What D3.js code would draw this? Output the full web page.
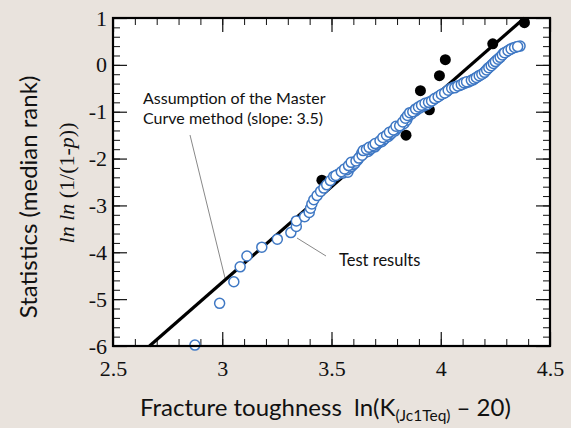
<!DOCTYPE html>
<html>
<head>
<meta charset="utf-8">
<script src="https://cdn.jsdelivr.net/npm/d3@7"></script>
<style>
  body { margin: 0; background: #e9e3dd; }
  svg { display: block; }
  .tick text { font-family: "Liberation Serif", "Times New Roman", serif; font-size: 22px; fill: #111; }
  .sans { font-family: Lato, "Open Sans", sans-serif; fill: #111; white-space: pre; }
</style>
</head>
<body>
<div id="chart"></div>
<script>
//
// Data
//
var xMajor = [2.5, 3, 3.5, 4, 4.5];
var yMajor = [1, 0, -1, -2, -3, -4, -5, -6];
var xLabels = ["2.5", "3", "3.5", "4", "4.5"];
var yLabels = ["1", "0", "-1", "-2", "-3", "-4", "-5", "-6"];

// Master Curve assumption line, end points
var lineX = [2.667, 4.383];
var lineY = [-6, 1];

// black filled points
var blackX = [3.456, 3.841, 3.907, 3.948, 3.994, 4.021, 4.238, 4.383];
var blackY = [-2.46, -1.50, -0.55, -0.96, -0.23, 0.11, 0.45, 0.90];

// test results (open circles)
var testX = [2.875, 2.988, 3.053, 3.082, 3.113, 3.181, 3.252, 3.314, 3.339, 3.339,
             3.377, 3.398, 3.404, 3.410, 3.419, 3.434, 3.450, 3.465, 3.478, 3.495,
             3.510, 3.528, 3.552, 3.575, 3.570, 3.585, 3.592, 3.600, 3.608, 3.620,
             3.630, 3.638, 3.650, 3.668, 3.676, 3.684, 3.699, 3.706, 3.714, 3.730,
             3.738, 3.745, 3.760, 3.768, 3.775, 3.791, 3.798, 3.806, 3.821, 3.832,
             3.844, 3.850, 3.866, 3.882, 3.890, 3.905, 3.920, 3.936, 3.950, 3.966,
             3.981, 3.995, 4.012, 4.027, 4.042, 4.058, 4.070, 4.088, 4.100, 4.111,
             4.125, 4.134, 4.148, 4.157, 4.170, 4.180, 4.195, 4.205, 4.215, 4.225,
             4.236, 4.245, 4.256, 4.266, 4.277, 4.286, 4.300, 4.317, 4.330, 4.345,
             4.363,
             3.520, 3.545, 3.560, 3.578, 3.590, 3.612, 3.625, 3.640, 3.645, 3.660,
             3.672, 3.690, 3.700, 3.722, 3.735, 3.752, 3.765, 3.783, 3.795, 3.812,
             3.826, 3.838, 3.848, 3.858, 3.872, 3.885, 3.898, 3.912, 3.928, 3.944,
             3.958, 3.972, 3.988, 4.003, 4.018, 4.034, 4.050, 4.064, 4.078, 4.094,
             4.106, 4.118, 4.140, 4.152, 4.163, 4.176, 4.188, 4.200, 4.210, 4.220,
             4.231, 4.241, 4.250, 4.262, 4.272, 4.282, 4.292, 4.308, 4.322, 4.338,
             4.352];
var testY = [-5.98, -5.09, -4.63, -4.31, -4.08, -3.89, -3.72, -3.58, -3.45, -3.33,
             -3.24, -3.15, -3.06, -2.97, -2.88, -2.79, -2.70, -2.63, -2.56, -2.47,
             -2.38, -2.34, -2.31, -2.29, -2.24, -2.20, -2.17, -2.13, -2.10, -2.03,
             -1.96, -1.89, -1.87, -1.85, -1.81, -1.78, -1.75, -1.71, -1.67, -1.64,
             -1.60, -1.57, -1.53, -1.49, -1.46, -1.41, -1.37, -1.33, -1.28, -1.25,
             -1.18, -1.11, -1.05, -0.99, -0.96, -0.92, -0.88, -0.85, -0.80, -0.75,
             -0.70, -0.66, -0.61, -0.57, -0.51, -0.48, -0.46, -0.44, -0.41, -0.39,
             -0.37, -0.35, -0.32, -0.29, -0.25, -0.22, -0.18, -0.13, -0.08, -0.04,
             0.01, 0.05, 0.10, 0.14, 0.19, 0.24, 0.28, 0.33, 0.36, 0.38,
             0.40,
             -2.36, -2.28, -2.22, -2.15, -2.08, -2.05, -1.99, -1.93, -1.83, -1.80,
             -1.76, -1.72, -1.68, -1.62, -1.55, -1.50, -1.44, -1.39, -1.31, -1.30,
             -1.22, -1.14, -1.08, -1.02, -1.00, -0.94, -0.90, -0.86, -0.82, -0.80,
             -0.77, -0.72, -0.68, -0.63, -0.60, -0.54, -0.50, -0.49, -0.45, -0.42,
             -0.38, -0.36, -0.33, -0.30, -0.27, -0.23, -0.20, -0.16, -0.11, -0.06,
             -0.02, 0.03, 0.07, 0.12, 0.16, 0.21, 0.26, 0.30, 0.34, 0.37,
             0.39];

//
// Layout
//
var W = 571, H = 428;
var margin = {top: 18, right: 21, bottom: 82, left: 113},
    width  = W - margin.left - margin.right,
    height = H - margin.top - margin.bottom;

var svg = d3.select("#chart").append("svg")
    .attr("width", W)
    .attr("height", H);

var g = svg.append("g")
    .attr("transform", "translate(" + margin.left + "," + margin.top + ")");

var x = d3.scaleLinear().domain([2.5, 4.5]).range([0, width]);
var y = d3.scaleLinear().domain([-6, 1]).range([height, 0]);

// plot area
g.append("rect")
    .attr("width", width)
    .attr("height", height)
    .attr("fill", "white");

// minor ticks, inward, on all four sides
var xMinor = d3.range(25, 46).map(function(d) { return d / 10; });
var yMinor = d3.range(-30, 6).map(function(d) { return d / 5; });

function minorAxis(axis, ticks, tr) {
    var a = g.append("g").attr("transform", tr)
        .call(axis.tickValues(ticks).tickSize(-7).tickFormat(""));
    a.select(".domain").remove();
    a.selectAll("line").attr("stroke", "#111");
}
minorAxis(d3.axisBottom(x), xMinor, "translate(0," + height + ")");
minorAxis(d3.axisTop(x), xMinor, "translate(0,0)");
minorAxis(d3.axisLeft(y), yMinor, "translate(0,0)");
minorAxis(d3.axisRight(y), yMinor, "translate(" + width + ",0)");

// major ticks with labels
var xAxis = g.append("g")
    .attr("transform", "translate(0," + height + ")")
    .call(d3.axisBottom(x).tickValues(xMajor).tickSize(-14).tickPadding(14)
        .tickFormat(function(d, i) { return xLabels[i]; }));
var yAxis = g.append("g")
    .call(d3.axisLeft(y).tickValues(yMajor).tickSize(-14).tickPadding(6)
        .tickFormat(function(d, i) { return yLabels[i]; }));
var xTop = g.append("g")
    .call(d3.axisTop(x).tickValues(xMajor).tickSize(-14).tickFormat(""));
var yRight = g.append("g")
    .attr("transform", "translate(" + width + ",0)")
    .call(d3.axisRight(y).tickValues(yMajor).tickSize(-14).tickFormat(""));

[xAxis, yAxis, xTop, yRight].forEach(function(a) {
    a.select(".domain").remove();
    a.selectAll("line").attr("stroke", "#111").attr("stroke-width", 1.2);
});

// leader lines for the notes
g.append("line")
    .attr("x1", 190 - margin.left).attr("y1", 135 - margin.top)
    .attr("x2", 225 - margin.left).attr("y2", 278 - margin.top)
    .attr("stroke", "#888").attr("stroke-width", 1);
g.append("line")
    .attr("x1", 297 - margin.left).attr("y1", 238 - margin.top)
    .attr("x2", 326 - margin.left).attr("y2", 256 - margin.top)
    .attr("stroke", "#888").attr("stroke-width", 1);

// the slope 3.5 line
g.append("line")
    .attr("x1", x(lineX[0])).attr("y1", y(lineY[0]))
    .attr("x2", x(lineX[1])).attr("y2", y(lineY[1]))
    .attr("stroke", "black")
    .attr("stroke-width", 3.2);

// black points
g.append("g").selectAll("circle")
    .data(d3.range(blackX.length))
    .enter().append("circle")
    .attr("cx", function(i) { return x(blackX[i]); })
    .attr("cy", function(i) { return y(blackY[i]); })
    .attr("r", 5.5)
    .attr("fill", "black");

// test results
g.append("g").selectAll("circle")
    .data(d3.range(testX.length))
    .enter().append("circle")
    .attr("cx", function(i) { return x(testX[i]); })
    .attr("cy", function(i) { return y(testY[i]); })
    .attr("r", 5)
    .attr("fill", "white")
    .attr("stroke", "#3f78c4")
    .attr("stroke-width", 1.5);

// frame
g.append("rect")
    .attr("width", width)
    .attr("height", height)
    .attr("fill", "none")
    .attr("stroke", "black")
    .attr("stroke-width", 2.2);

// notes
var note = svg.append("text")
    .attr("class", "sans")
    .style("font-size", "16px");
note.append("tspan").attr("x", 143).attr("y", 104).text("Assumption of the Master");
note.append("tspan").attr("x", 143).attr("y", 124).text("Curve method (slope: 3.5)");

svg.append("text")
    .attr("class", "sans")
    .style("font-size", "16.5px")
    .attr("x", 339).attr("y", 266)
    .text("Test results");

// axis titles
var xt = svg.append("text")
    .attr("class", "sans")
    .style("font-size", "24px")
    .attr("x", 140).attr("y", 416);
xt.append("tspan").text("Fracture toughness  ln(K");
xt.append("tspan").attr("dy", 5).style("font-size", "15.5px").text("(Jc1Teq)");
xt.append("tspan").attr("dy", -5).text(" \u2013 20)");

svg.append("text")
    .attr("class", "sans")
    .style("font-size", "24px")
    .attr("text-anchor", "middle")
    .attr("transform", "translate(37,197) rotate(-90)")
    .text("Statistics (median rank)");

var yt = svg.append("text")
    .attr("text-anchor", "middle")
    .style("font-family", "'Liberation Serif', serif")
    .style("font-size", "22px")
    .attr("fill", "#111")
    .attr("transform", "translate(74,183) rotate(-90)");
yt.append("tspan").style("font-style", "italic").text("ln ln");
yt.append("tspan").text(" (1/(1-");
yt.append("tspan").style("font-style", "italic").text("p");
yt.append("tspan").text("))");
</script>
</body>
</html>
